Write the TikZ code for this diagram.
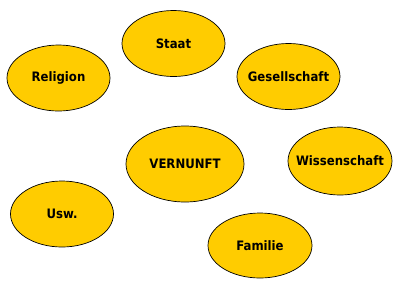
\documentclass[tikz,border=0pt]{standalone}
\usepackage{fontspec}
\setmainfont{DejaVu Sans}
\newfontfamily\ideafont{DejaVu Sans Condensed}
\usepackage{tikz}
\usetikzlibrary{shapes.geometric}
\definecolor{mygold}{RGB}{255,204,0}
\tikzset{
  idea/.style={ellipse, draw=black, fill=mygold, line width=0.7pt,
    inner sep=0pt, minimum width=103pt, minimum height=66pt,
    label={[font=\ideafont\fontsize{13}{15}\selectfont\bfseries]center:#1}}
}
\begin{document}
\begin{tikzpicture}[x=1pt, y=-1pt]
  \useasboundingbox (0,0) rectangle (399,285);
  \node[idea=Staat] (staat) at (173.5,43.5) {};
  \node[idea=Religion] (religion) at (58.5,78) {};
  \node[idea=Gesellschaft] (gesellschaft) at (288.5,76.5) {};
  \node[idea=VERNUNFT, minimum width=118pt, minimum height=76pt] (vernunft) at (185,164) {};
  \node[idea=Wissenschaft, minimum width=104pt, minimum height=68pt] (wissenschaft) at (340,161) {};
  \node[idea=Usw.] (usw) at (62,214) {};
  \node[idea=Familie, minimum width=104pt, minimum height=65pt] (familie) at (260,245.5) {};
\end{tikzpicture}
\end{document}
